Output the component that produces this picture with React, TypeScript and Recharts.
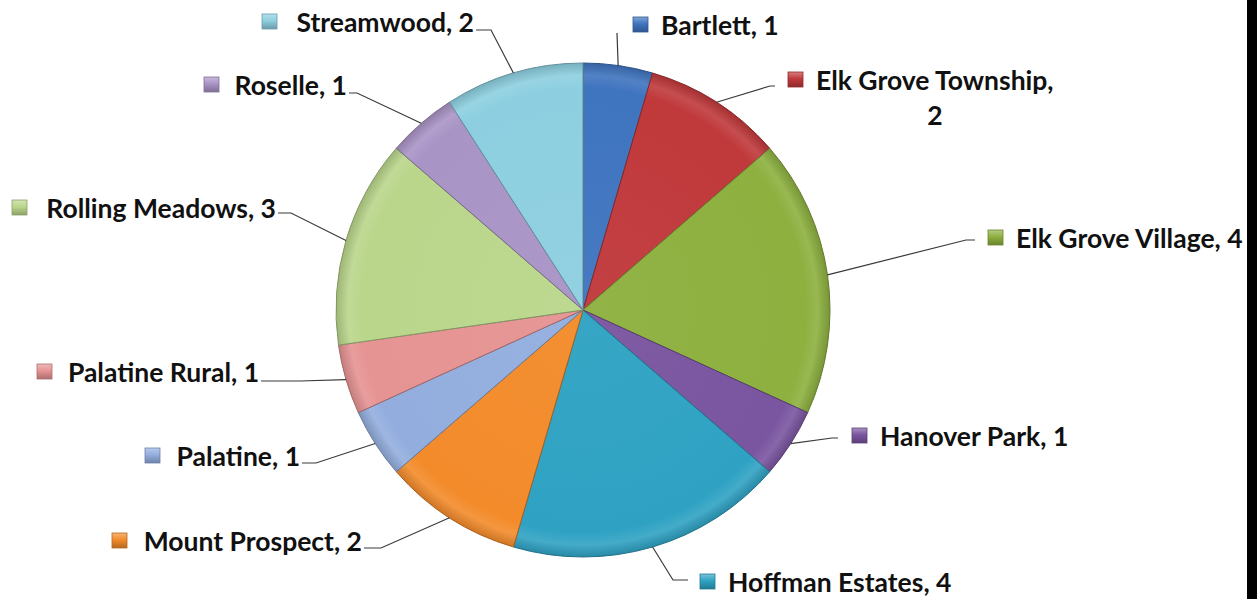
import { PieChart, Pie, Cell } from 'recharts';

const categories = [
	'Bartlett',
	'Elk Grove Township',
	'Elk Grove Village',
	'Hanover Park',
	'Hoffman Estates',
	'Mount Prospect',
	'Palatine',
	'Palatine Rural',
	'Rolling Meadows',
	'Roselle',
	'Streamwood',
];
const counts = [1, 2, 4, 1, 4, 2, 1, 1, 3, 1, 2];
const sliceColors = [
	'#3f74bf',
	'#c0393b',
	'#8db03f',
	'#7a55a0',
	'#2fa2c3',
	'#f38b2b',
	'#93aede',
	'#e69393',
	'#bad68b',
	'#a994c6',
	'#8dcfe0',
];

// where each label sits: leader elbow, end of the short tail, key box and text row
const labelSpots = [
	{ elbow: [617, 33], tail: 617, keyX: 633, textY: 25, side: 'right' },
	{ elbow: [770, 86], tail: 775, keyX: 788, textY: 80, side: 'right', wrapX: 935 },
	{ elbow: [966, 240], tail: 975, keyX: 988, textY: 238, side: 'right' },
	{ elbow: [832, 438], tail: 838, keyX: 852, textY: 436, side: 'right' },
	{ elbow: [673, 580], tail: 688, keyX: 700, textY: 582, side: 'right' },
	{ elbow: [381, 548], tail: 364, keyX: 112, textY: 541, side: 'left' },
	{ elbow: [316, 463], tail: 302, keyX: 145, textY: 456, side: 'left' },
	{ elbow: [300, 381], tail: 261, keyX: 37, textY: 372, side: 'left' },
	{ elbow: [291, 213], tail: 278, keyX: 12, textY: 208, side: 'left' },
	{ elbow: [357, 93], tail: 349, keyX: 204, textY: 85, side: 'left' },
	{ elbow: [491, 30], tail: 476, keyX: 262, textY: 22, side: 'left' },
];

const data = categories.map((name, i) => ({ name, value: counts[i] }));

const RAD = Math.PI / 180;
const font = 'Lato, "Open Sans", sans-serif';
const fontSize = 26.5;

const shade = (hex: string, amt: number) => {
	const n = parseInt(hex.slice(1), 16);
	const mix = (c: number) =>
		Math.round(amt >= 0 ? c + (255 - c) * amt : c * (1 + amt));
	const r = mix((n >> 16) & 255);
	const g = mix((n >> 8) & 255);
	const b = mix(n & 255);
	return `rgb(${r},${g},${b})`;
};

const renderLabel = (props: any) => {
	const { cx, cy, midAngle, outerRadius, index, name, value } = props;
	const spot = labelSpots[index];
	const ex = cx + outerRadius * Math.cos(-midAngle * RAD);
	const ey = cy + outerRadius * Math.sin(-midAngle * RAD);
	const [bx, by] = spot.elbow;
	const color = sliceColors[index];
	const line = `${ex},${ey} ${bx},${by} ${spot.tail},${by}`;
	const right = spot.side === 'right';
	const textX = right ? spot.keyX + 28 : spot.tail - 2;
	const first = spot.wrapX ? `${name},` : `${name}, ${value}`;

	return (
		<g key={`lbl-${index}`}>
			<polyline points={line} fill='none' stroke='#3a3a3a' strokeWidth={1.2} />
			<rect
				x={spot.keyX}
				y={spot.textY - 8}
				width={15}
				height={15}
				fill={`url(#key-${index})`}
				stroke={shade(color, -0.25)}
				strokeWidth={0.8}
			/>
			<text
				x={textX}
				y={spot.textY}
				textAnchor={right ? 'start' : 'end'}
				dominantBaseline='central'
				fontFamily={font}
				fontWeight={700}
				fontSize={fontSize}
				fill='#111'
			>
				{first}
			</text>
			{spot.wrapX && (
				<text
					x={spot.wrapX}
					y={spot.textY + 35}
					textAnchor='middle'
					dominantBaseline='central'
					fontFamily={font}
					fontWeight={700}
					fontSize={fontSize}
					fill='#111'
				>
					{value}
				</text>
			)}
		</g>
	);
};

const App = () => {
	return (
		<div
			style={{
				position: 'absolute',
				left: 0,
				top: 0,
				width: 1257,
				height: 599,
				background: '#fff',
				overflow: 'hidden',
			}}
		>
			<PieChart
				width={1257}
				height={599}
				margin={{ top: 0, right: 0, bottom: 0, left: 0 }}
			>
				<defs>
					{sliceColors.map((c, i) => (
						<radialGradient
							key={`g-${i}`}
							id={`slice-${i}`}
							gradientUnits='userSpaceOnUse'
							cx={583}
							cy={310}
							r={247}
						>
							<stop offset='0%' stopColor={shade(c, 0.04)} />
							<stop offset='90%' stopColor={c} />
							<stop offset='95%' stopColor={shade(c, 0.1)} />
							<stop offset='100%' stopColor={shade(c, -0.15)} />
						</radialGradient>
					))}
					{sliceColors.map((c, i) => (
						<linearGradient key={`k-${i}`} id={`key-${i}`} x1='0' y1='0' x2='0' y2='1'>
							<stop offset='0%' stopColor={shade(c, 0.35)} />
							<stop offset='45%' stopColor={c} />
							<stop offset='100%' stopColor={shade(c, -0.25)} />
						</linearGradient>
					))}
				</defs>
				<Pie
					data={data}
					dataKey='value'
					nameKey='name'
					cx={583}
					cy={310}
					outerRadius={247}
					startAngle={90}
					endAngle={-270}
					label={renderLabel}
					labelLine={false}
					isAnimationActive={false}
				>
					{data.map((entry, i) => (
						<Cell
							key={`cell-${i}`}
							fill={`url(#slice-${i})`}
							stroke={shade(sliceColors[i], -0.3)}
							strokeWidth={1}
						/>
					))}
				</Pie>
			</PieChart>
			<div
				style={{
					position: 'absolute',
					left: 1247,
					top: 0,
					width: 10,
					height: 599,
					background: '#000',
				}}
			/>
		</div>
	);
};

export default App;
